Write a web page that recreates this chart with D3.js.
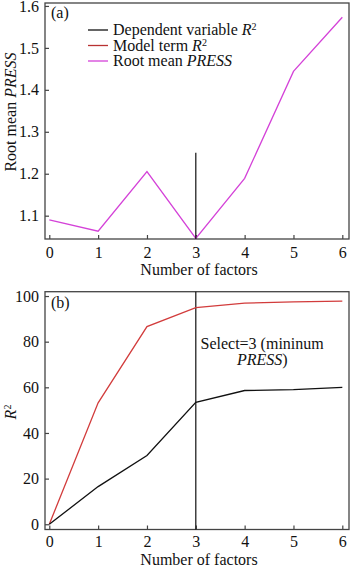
<!DOCTYPE html>
<html>
<head>
<meta charset="utf-8">
<script src="https://cdn.jsdelivr.net/npm/d3@7"></script>
<style>
  body { margin: 0; background: #fff; }
  svg text { font-family: "Liberation Serif", "DejaVu Serif", serif; fill: #111; }
</style>
</head>
<body>
<svg id="canvas" width="350" height="566"></svg>
<script>
// Data
var factors = [0, 1, 2, 3, 4, 5, 6];
var rootMeanPress = [1.090, 1.063, 1.205, 1.046, 1.189, 1.444, 1.573];
var modelR2 = [0, 53.2, 86.6, 94.9, 96.9, 97.4, 97.8];
var depR2 = [0, 16.5, 30.1, 53.4, 58.6, 59.0, 60.0];
var pressTicks = [1.1, 1.2, 1.3, 1.4, 1.5, 1.6];
var r2Ticks = [0, 20, 40, 60, 80, 100];
var selected = 3;

var colBlack = "#111", colRed = "#d23c3c", colMag = "#d442d8", colAxis = "#444";
var fs = 16;

var svg = d3.select("#canvas");

var left = 45, right = 349;
var x = d3.scaleLinear().domain([-0.088, 6.137]).range([left, right]);

// Panel frames
var pa = {top: 3, bottom: 239, title: 36, pad: 8};
var pb = {top: 291.7, bottom: 529.5, title: 35.5, pad: 6};

var yA = d3.scaleLinear().domain([1.0444, 1.607]).range([pa.bottom, pa.top]);
var yB = d3.scaleLinear().domain([-2.3, 101.9]).range([pb.bottom, pb.top]);

function drawAxes(y, p, ticks, fmt) {
    var xAxis = svg.append("g")
        .attr("transform", "translate(0," + p.bottom + ")")
        .call(d3.axisBottom(x).tickValues(factors).tickFormat(d3.format("d"))
            .tickSizeInner(-4).tickSizeOuter(0).tickPadding(p.pad));
    var yAxis = svg.append("g")
        .attr("transform", "translate(" + left + ",0)")
        .call(d3.axisLeft(y).tickValues(ticks).tickFormat(fmt).tickSizeInner(-4).tickSizeOuter(0).tickPadding(6));
    [xAxis, yAxis].forEach(function(a){
        a.select(".domain").remove();
        a.selectAll("line").attr("stroke", colAxis).attr("stroke-width", 1.2);
        a.selectAll("text").style("font-size", fs + "px").style("font-family", "Liberation Serif").attr("fill", "#111");
    });
    svg.append("rect")
        .attr("x", left).attr("y", p.top)
        .attr("width", right - left).attr("height", p.bottom - p.top)
        .attr("fill", "none").attr("stroke", colAxis).attr("stroke-width", 1.3);
    svg.append("text")
        .attr("x", (left + right) / 2 + 2).attr("y", p.bottom + p.title)
        .attr("text-anchor", "middle").style("font-size", fs + "px")
        .text("Number of factors");
}

function drawLine(values, y, color) {
    var line = d3.line()
        .x(function(d, i){ return x(factors[i]); })
        .y(function(d){ return y(d); });
    svg.append("path")
        .datum(values)
        .attr("d", line)
        .attr("fill", "none")
        .attr("stroke", color)
        .attr("stroke-width", 1.3);
}

// ---- Panel (a)
drawAxes(yA, pa, pressTicks, d3.format(".1f"));
drawLine(rootMeanPress, yA, colMag);
svg.append("line")
    .attr("x1", x(selected)).attr("x2", x(selected))
    .attr("y1", yA(1.25)).attr("y2", pa.bottom)
    .attr("stroke", colBlack).attr("stroke-width", 1.2);

svg.append("text").attr("x", 51).attr("y", 18).style("font-size", fs + "px").text("(a)");

var yTitleA = svg.append("text")
    .attr("transform", "translate(16,112) rotate(-90)")
    .attr("text-anchor", "middle").style("font-size", fs + "px");
yTitleA.append("tspan").text("Root mean ");
yTitleA.append("tspan").style("font-style", "italic").text("PRESS");

// Legend
var legend = [
    {color: colBlack, parts: [["Dependent variable ", "normal"], ["R", "italic"]], sup: true},
    {color: "#b83232", parts: [["Model term ", "normal"], ["R", "italic"]], sup: true},
    {color: colMag, parts: [["Root mean ", "normal"], ["PRESS", "italic"]], sup: false}
];
legend.forEach(function(d, i){
    var ly = 30 + i * 15.5;
    svg.append("line")
        .attr("x1", 88).attr("x2", 108).attr("y1", ly).attr("y2", ly)
        .attr("stroke", d.color).attr("stroke-width", 1.3);
    var t = svg.append("text").attr("x", 113).attr("y", ly + 5).style("font-size", fs + "px");
    d.parts.forEach(function(p){
        t.append("tspan").style("font-style", p[1]).text(p[0]);
    });
    if (d.sup) t.append("tspan").attr("dy", -5).style("font-size", "10px").text("2");
});

// ---- Panel (b)
drawAxes(yB, pb, r2Ticks, d3.format("d"));
svg.append("line")
    .attr("x1", x(selected)).attr("x2", x(selected))
    .attr("y1", pb.top).attr("y2", pb.bottom)
    .attr("stroke", colBlack).attr("stroke-width", 1.2);
drawLine(modelR2, yB, colRed);
drawLine(depR2, yB, colBlack);

svg.append("text").attr("x", 51).attr("y", 308).style("font-size", fs + "px").text("(b)");

var yTitleB = svg.append("text")
    .attr("transform", "translate(16,412) rotate(-90)")
    .attr("text-anchor", "middle").style("font-size", fs + "px");
yTitleB.append("tspan").style("font-style", "italic").text("R");
yTitleB.append("tspan").attr("dy", -5).style("font-size", "10px").text("2");

svg.append("text").attr("x", 200.5).attr("y", 349).style("font-size", fs + "px")
    .text("Select=3 (mininum");
var sel2 = svg.append("text").attr("x", 237).attr("y", 365).style("font-size", fs + "px");
sel2.append("tspan").style("font-style", "italic").text("PRESS");
sel2.append("tspan").text(")");
</script>
</body>
</html>
